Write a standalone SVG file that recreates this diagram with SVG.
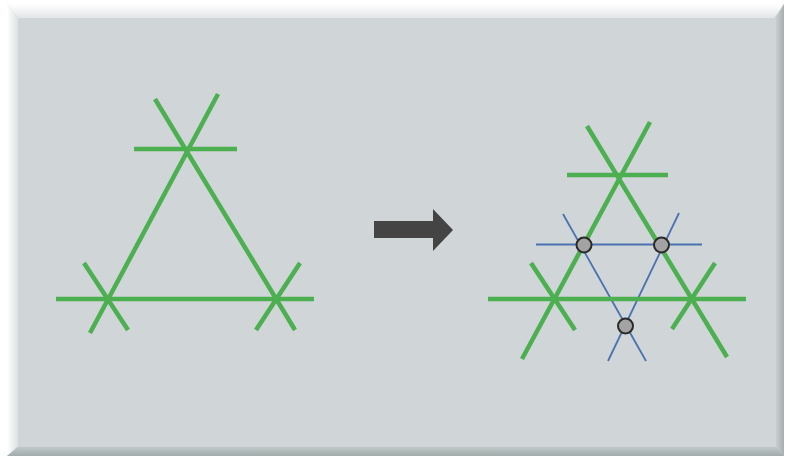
<svg xmlns="http://www.w3.org/2000/svg" width="791" height="460" viewBox="0 0 791 460">
<defs>
<style>
.g{stroke:#4caf50;stroke-width:4.5;stroke-linecap:butt;fill:none}
.b{stroke:#4a72b0;stroke-width:1.8;fill:none}
.pt{fill:#a3a3a3;stroke:#2a2a2a;stroke-width:2}
</style>
<linearGradient id="top" x1="0" y1="0" x2="0" y2="1"><stop offset="0" stop-color="#ffffff"/><stop offset="1" stop-color="#e2e5e7"/></linearGradient>
<linearGradient id="left" x1="0" y1="0" x2="1" y2="0"><stop offset="0" stop-color="#ffffff"/><stop offset="1" stop-color="#dde1e3"/></linearGradient>
<linearGradient id="right" x1="0" y1="0" x2="1" y2="0"><stop offset="0" stop-color="#c8ced0"/><stop offset="1" stop-color="#a6aeb0"/></linearGradient>
<linearGradient id="bottom" x1="0" y1="0" x2="0" y2="1"><stop offset="0" stop-color="#c0c7c8"/><stop offset="1" stop-color="#a2acab"/></linearGradient>
</defs>
<rect width="791" height="460" fill="#ffffff"/>
<g id="panel">
<rect x="7" y="4" width="777" height="452" fill="#d0d5d8"/>
<polygon points="7,4 784,4 774,18 18,18" fill="url(#top)"/>
<polygon points="7,4 18,18 18,446 7,456" fill="url(#left)"/>
<polygon points="784,4 784,456 776,447 776,18" fill="url(#right)"/>
<polygon points="7,456 18,447 776,447 784,456" fill="url(#bottom)"/>
</g>
<g id="left-triangle">
<line class="g" x1="134" y1="149" x2="237" y2="149"/>
<line class="g" x1="56" y1="299" x2="314" y2="299"/>
<line class="g" x1="90" y1="333" x2="218" y2="94"/>
<line class="g" x1="155" y1="99" x2="295" y2="330"/>
<line class="g" x1="84" y1="263" x2="128" y2="330"/>
<line class="g" x1="300" y1="263" x2="256" y2="330"/>
</g>
<g id="arrow">
<polygon points="374,221 433,221 433,209 453,230 433,251 433,238 374,238" fill="#444444"/>
</g>
<g id="right-triangle">
<line class="b" x1="536" y1="244.5" x2="702" y2="244.5"/>
<line class="b" x1="563" y1="214" x2="646" y2="361"/>
<line class="b" x1="679" y1="213" x2="608" y2="361"/>
<line class="g" x1="567" y1="175" x2="668" y2="175"/>
<line class="g" x1="488" y1="299" x2="746" y2="299"/>
<line class="g" x1="522" y1="359" x2="650" y2="122"/>
<line class="g" x1="587" y1="126" x2="727" y2="357"/>
<line class="g" x1="531" y1="263" x2="575" y2="330"/>
<line class="g" x1="715" y1="263" x2="672" y2="329"/>
<circle class="pt" cx="584" cy="245" r="7.5"/>
<circle class="pt" cx="661.5" cy="245" r="7.5"/>
<circle class="pt" cx="625.5" cy="326" r="7.5"/>
</g>
</svg>
